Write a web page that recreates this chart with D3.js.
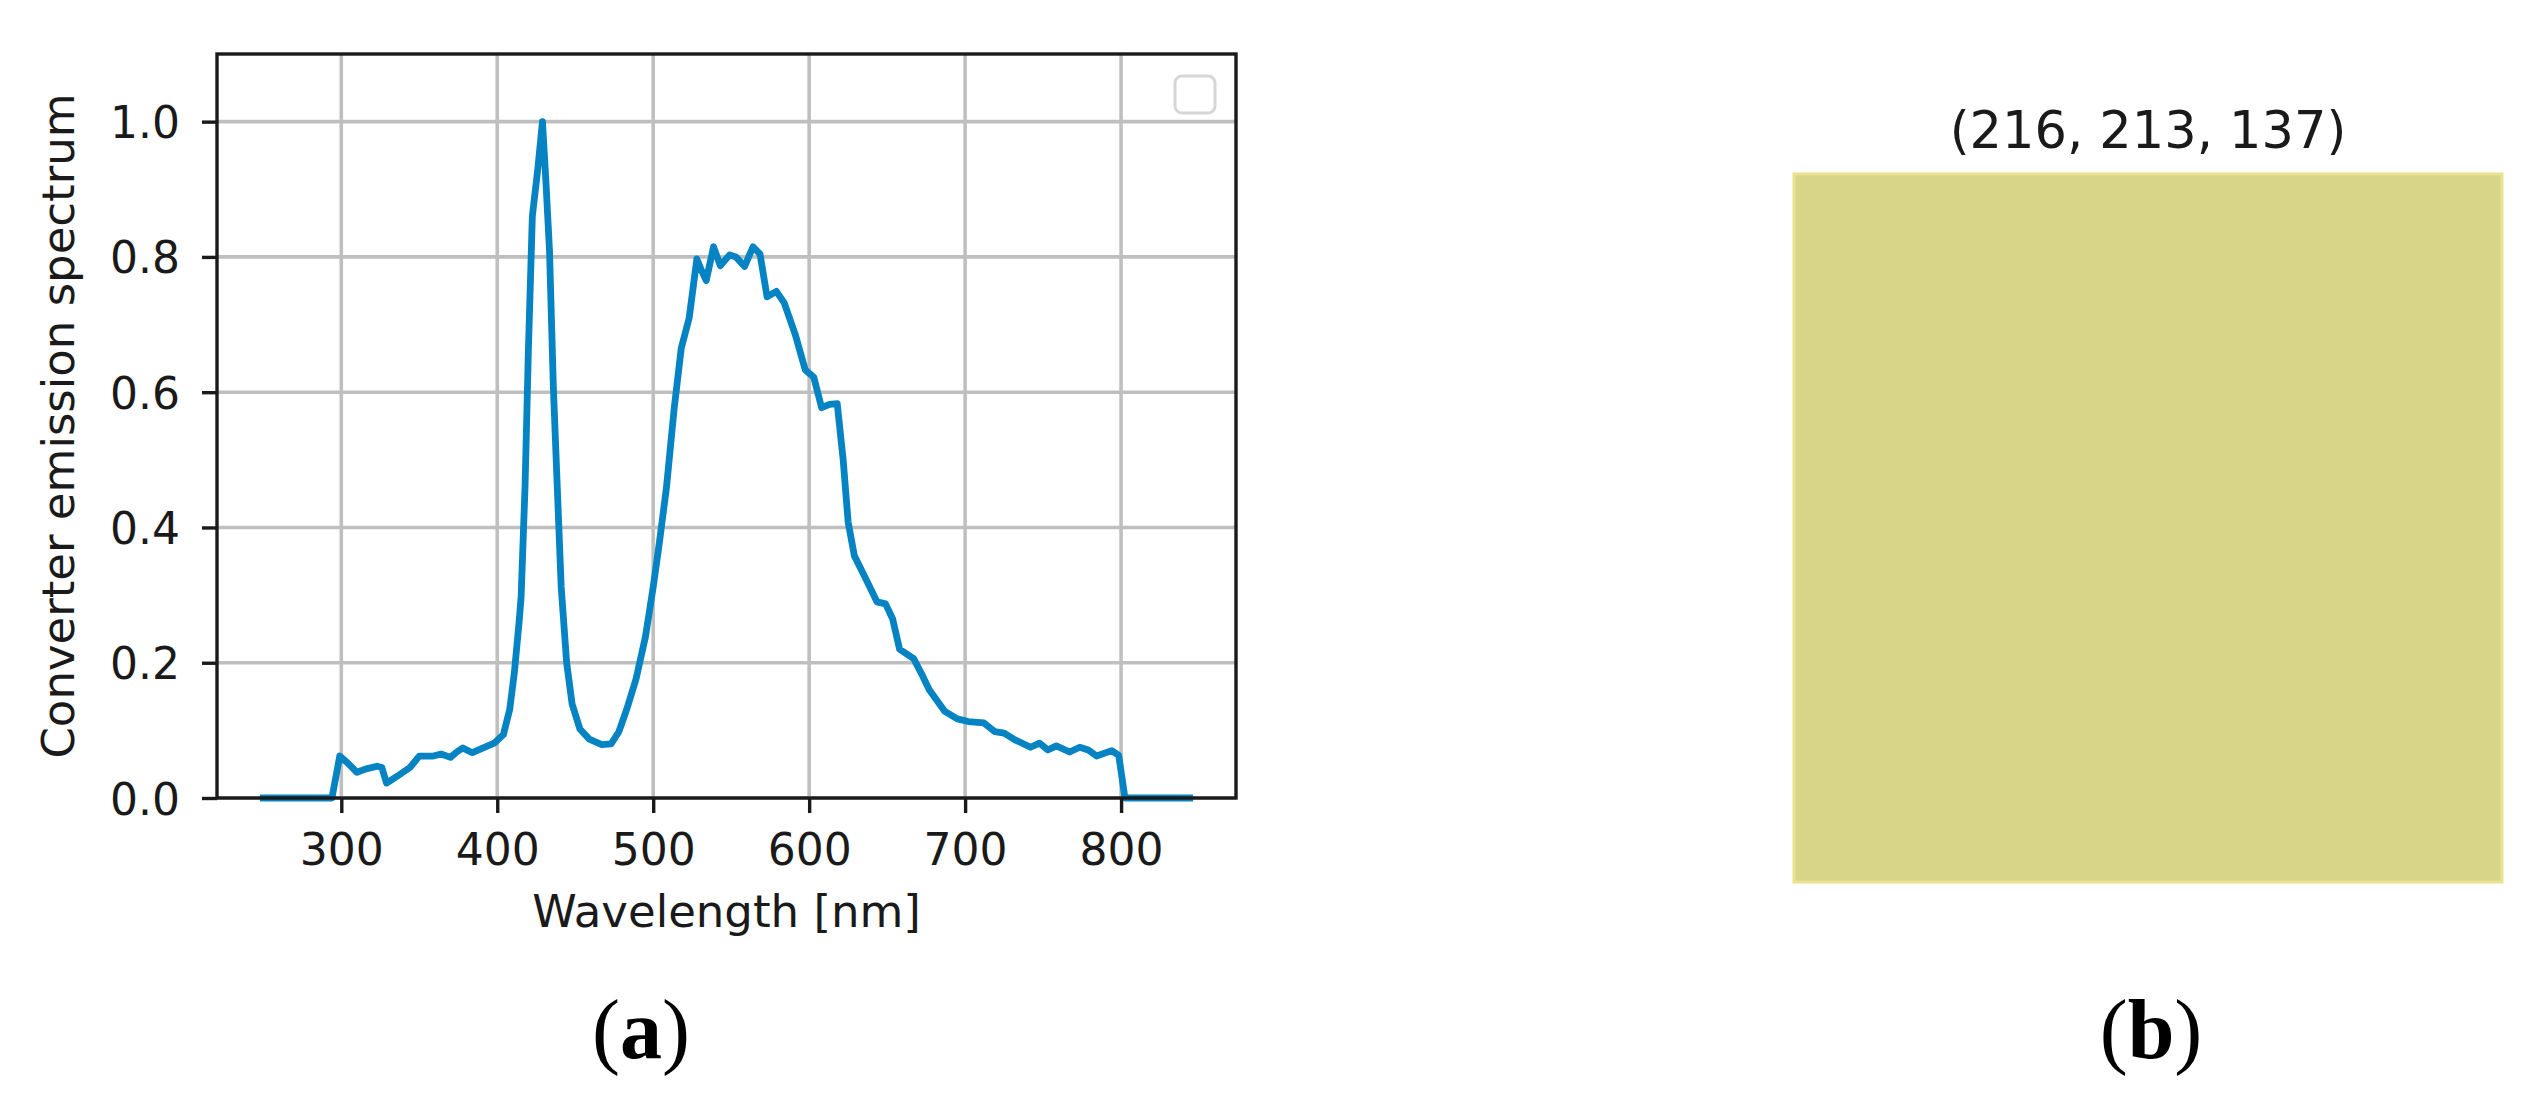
<!DOCTYPE html>
<html>
<head>
<meta charset="utf-8">
<script src="https://cdn.jsdelivr.net/npm/d3@7"></script>
<style>
  body { margin: 0; background: #fff; }
  svg text { font-family: "DejaVu Sans", sans-serif; fill: #1a1a1a; }
  .caption text { font-family: "Liberation Serif", "DejaVu Serif", serif; fill: #000; }
</style>
</head>
<body>
<svg id="fig" width="2540" height="1109"></svg>
<script>
// spectrum (nm, relative emission)
var wavelengths = [250, 260, 270, 280, 290, 294, 299, 304, 310, 316, 323, 326, 329, 333, 337,
    344, 350, 355, 359, 364, 370, 374, 378, 384, 391, 398, 404, 408, 411, 414, 415.3, 417.8,
    420, 422.5, 426, 429, 431, 433.5, 436, 438.5, 441, 444.5, 448, 453, 459, 467, 473, 478,
    483, 489, 495, 500, 504, 508.5, 513.5, 518, 523, 528, 531, 534, 538.7, 543, 549, 553,
    558.6, 564, 568.5, 573, 579, 584, 591, 597.5, 603, 608, 613, 618, 621.8, 625, 629, 635.5,
    643.5, 649, 653.5, 658, 667, 672, 677, 687, 695, 702, 712, 719, 725, 732, 742, 747.7,
    753, 758.5, 767, 773.5, 779, 784.3, 794, 798.5, 802.5, 810, 820, 830, 844];
var emission = [0, 0, 0, 0, 0, 0, 0.062, 0.052, 0.038, 0.043, 0.047, 0.045, 0.022, 0.028, 0.034,
    0.045, 0.062, 0.062, 0.062, 0.065, 0.060, 0.068, 0.074, 0.067, 0.074, 0.081, 0.094, 0.131, 0.186, 0.26, 0.297, 0.459,
    0.665, 0.86, 0.93, 1.0, 0.92, 0.81, 0.606, 0.459, 0.312, 0.2, 0.139, 0.102, 0.087, 0.079, 0.080, 0.098,
    0.131, 0.176, 0.238, 0.312, 0.378, 0.459, 0.577, 0.665, 0.709, 0.797, 0.78, 0.765, 0.815, 0.787, 0.803, 0.800,
    0.786, 0.815, 0.804, 0.741, 0.749, 0.732, 0.686, 0.633, 0.622, 0.577, 0.582, 0.583, 0.50, 0.408, 0.358, 0.328,
    0.29, 0.287, 0.265, 0.22, 0.206, 0.184, 0.16, 0.128, 0.117, 0.113, 0.111, 0.098, 0.096, 0.086, 0.075, 0.081,
    0.071, 0.077, 0.068, 0.075, 0.071, 0.062, 0.070, 0.063, 0, 0, 0, 0, 0];
var xTicks = [300, 400, 500, 600, 700, 800];
var yTicks = [0, 0.2, 0.4, 0.6, 0.8, 1.0];
var yMax = 1.1;
var swatchRGB = [216, 213, 137];
var captions = ['a', 'b'];

var svg = d3.select('#fig');

// ---- panel (a): spectrum ----
var box = { left: 217, right: 1236, top: 54, bottom: 798 };
var ext = d3.extent(wavelengths);
var pad = (ext[1] - ext[0]) * 0.05;

var x = d3.scaleLinear().domain([ext[0] - pad, ext[1] + pad]).range([box.left, box.right]);
var y = d3.scaleLinear().domain([0, yMax]).range([box.bottom, box.top]);

var gA = svg.append('g');

var grid = gA.append('g').attr('stroke', '#bfbfbf').attr('stroke-width', 3.6);
grid.selectAll('.gx').data(xTicks).enter().append('line')
    .attr('x1', function (d) { return x(d); }).attr('x2', function (d) { return x(d); })
    .attr('y1', box.top).attr('y2', box.bottom);
grid.selectAll('.gy').data(yTicks).enter().append('line')
    .attr('y1', function (d) { return y(d); }).attr('y2', function (d) { return y(d); })
    .attr('x1', box.left).attr('x2', box.right);

var pts = wavelengths.map(function (w, i) { return [w, emission[i]]; });
var line = d3.line().x(function (d) { return x(d[0]); }).y(function (d) { return y(d[1]); });

gA.append('path').datum(pts)
    .attr('d', line)
    .attr('fill', 'none')
    .attr('stroke', '#0583c3')
    .attr('stroke-width', 6.8)
    .attr('stroke-linejoin', 'round')
    .attr('stroke-linecap', 'square');

// axes
var xAxis = gA.append('g').attr('transform', 'translate(0,' + box.bottom + ')')
    .call(d3.axisBottom(x).tickValues(xTicks).tickSize(15).tickPadding(6));
var yAxis = gA.append('g').attr('transform', 'translate(' + box.left + ',0)')
    .call(d3.axisLeft(y).tickValues(yTicks).tickSize(15).tickPadding(22).tickFormat(d3.format('.1f')));

[xAxis, yAxis].forEach(function (a) {
    a.select('.domain').remove();
    a.selectAll('.tick line').attr('stroke', '#1a1a1a').attr('stroke-width', 3.4);
    a.selectAll('.tick text').attr('font-size', 44).attr('font-family', 'DejaVu Sans');
});
xAxis.selectAll('.tick text').attr('y', 67).attr('dy', 0);
yAxis.selectAll('.tick text').attr('dy', '0.3645em');

gA.append('rect')
    .attr('x', box.left).attr('y', box.top)
    .attr('width', box.right - box.left).attr('height', box.bottom - box.top)
    .attr('fill', 'none').attr('stroke', '#1a1a1a').attr('stroke-width', 3.4);

// empty legend frame
gA.append('rect')
    .attr('x', box.right - 61).attr('y', box.top + 22)
    .attr('width', 40).attr('height', 37).attr('rx', 7)
    .attr('fill', '#fff').attr('stroke', '#d6d6d6').attr('stroke-width', 3);

gA.append('text')
    .attr('x', (box.left + box.right) / 2).attr('y', 927)
    .attr('text-anchor', 'middle').attr('font-size', 45)
    .text('Wavelength [nm]');

gA.append('text')
    .attr('transform', 'translate(74,' + (box.top + box.bottom) / 2 + ') rotate(-90)')
    .attr('text-anchor', 'middle').attr('font-size', 45)
    .text('Converter emission spectrum');

// ---- panel (b): colour swatch ----
var sx = d3.scaleLinear().domain([-0.5, 0.5]).range([1794, 2502]);
var sy = d3.scaleLinear().domain([-0.5, 0.5]).range([174, 882]);
var gB = svg.append('g');

gB.append('rect')
    .attr('x', sx(-0.5)).attr('y', sy(-0.5))
    .attr('width', sx(0.5) - sx(-0.5)).attr('height', sy(0.5) - sy(-0.5))
    .attr('fill', d3.rgb(swatchRGB[0], swatchRGB[1], swatchRGB[2]))
    .attr('stroke', '#e9e28e').attr('stroke-width', 3);

gB.append('text')
    .attr('x', sx(0)).attr('y', 148)
    .attr('text-anchor', 'middle').attr('font-size', 51)
    .attr('fill', '#222')
    .text('(' + swatchRGB.join(', ') + ')');

// ---- captions ----
var capX = [641, 2151];
var cap = svg.append('g').attr('class', 'caption');
cap.selectAll('text').data(captions).enter().append('text')
    .attr('x', function (d, i) { return capX[i]; })
    .attr('y', 1058)
    .attr('text-anchor', 'middle')
    .attr('font-size', 84)
    .each(function (d) {
        var t = d3.select(this);
        t.append('tspan').text('(');
        t.append('tspan').attr('font-weight', 'bold').text(d);
        t.append('tspan').text(')');
    });
</script>
</body>
</html>
